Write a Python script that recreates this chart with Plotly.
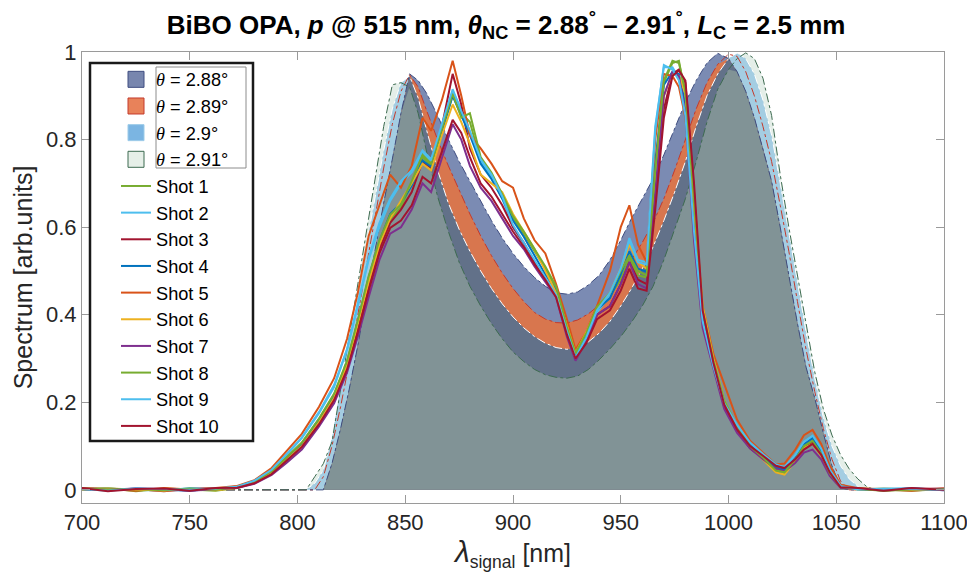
import numpy as np
import plotly.graph_objects as go

# ---------------- data ----------------
THETA_LABELS = ["2.88°", "2.89°", "2.9°", "2.91°"]

THETA_X = [700, 800, 804, 808, 812, 816, 820, 824, 828, 832, 836, 840, 844, 848, 852, 856,
           860, 865, 870, 875, 880, 885, 890, 895, 900, 905, 910, 915, 920, 925, 930, 935,
           940, 945, 950, 955, 960, 965, 970, 975, 980, 985, 990, 995, 1000,
           1004, 1008, 1012, 1016, 1020, 1024, 1028, 1032, 1036, 1040, 1044, 1048, 1052,
           1056, 1060, 1064, 1068, 1100]

SIM_288 = [0, 0, 0, 0, 0.0, 0.06, 0.14, 0.23, 0.33, 0.44, 0.55, 0.655, 0.755, 0.86, 0.95, 0.935,
           0.905, 0.855, 0.80, 0.75, 0.705, 0.66, 0.615, 0.575, 0.54, 0.51, 0.485, 0.465, 0.45, 0.447, 0.452, 0.468,
           0.49, 0.525, 0.57, 0.62, 0.665, 0.71, 0.765, 0.825, 0.885, 0.935, 0.975, 0.997, 0.985,
           0.955, 0.91, 0.85, 0.78, 0.705, 0.60, 0.49, 0.38, 0.28, 0.21, 0.13, 0.055, 0.005,
           0, 0, 0, 0, 0]

SIM_289 = [0, 0, 0, 0, 0.03, 0.10, 0.19, 0.29, 0.40, 0.515, 0.625, 0.735, 0.835, 0.91, 0.948, 0.92,
           0.865, 0.80, 0.74, 0.685, 0.63, 0.58, 0.535, 0.495, 0.46, 0.43, 0.405, 0.39, 0.382, 0.381, 0.388, 0.402,
           0.422, 0.45, 0.485, 0.525, 0.565, 0.61, 0.665, 0.73, 0.80, 0.87, 0.93, 0.972, 0.995,
           0.99, 0.955, 0.90, 0.83, 0.75, 0.65, 0.545, 0.43, 0.32, 0.225, 0.14, 0.07, 0.02,
           0.0, 0, 0, 0, 0]

SIM_290 = [0, 0, 0, 0.015, 0.045, 0.12, 0.24, 0.34, 0.445, 0.56, 0.67, 0.775, 0.87, 0.93, 0.945, 0.895,
           0.82, 0.73, 0.655, 0.595, 0.545, 0.50, 0.46, 0.425, 0.395, 0.37, 0.35, 0.335, 0.325, 0.321, 0.325, 0.338,
           0.358, 0.385, 0.42, 0.46, 0.505, 0.555, 0.615, 0.68, 0.75, 0.83, 0.90, 0.95, 0.985,
           0.998, 0.985, 0.95, 0.89, 0.81, 0.70, 0.59, 0.475, 0.36, 0.255, 0.165, 0.10, 0.055,
           0.025, 0.008, 0, 0, 0]

SIM_291 = [0, 0, 0.0, 0.03, 0.06, 0.11, 0.23, 0.34, 0.47, 0.59, 0.71, 0.83, 0.925, 0.93, 0.92, 0.86,
           0.77, 0.67, 0.59, 0.52, 0.465, 0.42, 0.38, 0.345, 0.315, 0.293, 0.275, 0.263, 0.257, 0.255, 0.26, 0.275,
           0.297, 0.322, 0.35, 0.383, 0.42, 0.465, 0.525, 0.595, 0.665, 0.75, 0.84, 0.915, 0.96,
           0.985, 0.998, 0.985, 0.94, 0.855, 0.72, 0.60, 0.49, 0.38, 0.27, 0.185, 0.125, 0.08,
           0.048, 0.025, 0.008, 0, 0]

SHOT_X = [700, 712, 725, 738, 750, 762, 772,
          780, 788, 795, 802, 810,
          817, 823, 828, 833, 838,
          843, 848, 853, 858, 862,
          867, 872, 876, 880, 885,
          890, 895, 900, 905, 910,
          915, 920, 925, 929, 934,
          939, 945, 950, 954, 958,
          962, 966, 970, 974, 977,
          980, 984, 988, 993, 998,
          1004, 1010, 1016, 1022, 1026,
          1031, 1035, 1039, 1043, 1047,
          1052, 1060, 1072, 1085, 1100]

SHOT_1 = [0.002, 0.004, -0.003, 0.003, 0.001, -0.002, 0.005,
          0.016, 0.038, 0.070, 0.102, 0.158,
          0.212, 0.285, 0.375, 0.470, 0.560,
          0.618, 0.645, 0.700, 0.760, 0.740,
          0.820, 0.900, 0.860, 0.840, 0.750,
          0.720, 0.670, 0.620, 0.585, 0.545,
          0.505, 0.460, 0.365, 0.305, 0.355,
          0.420, 0.445, 0.480, 0.530, 0.490,
          0.485, 0.720, 0.930, 0.975, 0.980,
          0.900, 0.630, 0.400, 0.290, 0.200,
          0.142, 0.098, 0.072, 0.046, 0.042,
          0.068, 0.098, 0.108, 0.080, 0.036,
          0.006, 0.003, 0.001, -0.002, 0.002]

SHOT_2 = [0.001, 0.003, 0.000, -0.002, 0.004, 0.002, 0.008,
          0.020, 0.045, 0.080, 0.118, 0.175,
          0.235, 0.320, 0.420, 0.525, 0.600,
          0.660, 0.700, 0.725, 0.770, 0.750,
          0.830, 0.910, 0.870, 0.815, 0.750,
          0.715, 0.665, 0.600, 0.560, 0.520,
          0.480, 0.440, 0.360, 0.300, 0.345,
          0.405, 0.445, 0.500, 0.575, 0.525,
          0.520, 0.830, 0.965, 0.965, 0.940,
          0.860, 0.585, 0.380, 0.280, 0.195,
          0.145, 0.105, 0.080, 0.055, 0.050,
          0.078, 0.108, 0.122, 0.092, 0.045,
          0.010, 0.000, 0.002, 0.004, -0.001]

SHOT_3 = [0.004, 0.001, 0.002, -0.003, 0.002, 0.003, 0.005,
          0.017, 0.040, 0.070, 0.100, 0.155,
          0.210, 0.285, 0.370, 0.465, 0.550,
          0.610, 0.640, 0.680, 0.750, 0.735,
          0.830, 0.950, 0.880, 0.780, 0.720,
          0.690, 0.650, 0.600, 0.565, 0.520,
          0.480, 0.445, 0.360, 0.305, 0.345,
          0.400, 0.420, 0.470, 0.520, 0.480,
          0.470, 0.660, 0.870, 0.950, 0.960,
          0.930, 0.680, 0.400, 0.285, 0.190,
          0.135, 0.095, 0.072, 0.050, 0.048,
          0.072, 0.098, 0.110, 0.082, 0.040,
          0.007, 0.003, -0.002, 0.002, 0.003]

SHOT_4 = [0.002, -0.001, 0.003, 0.001, -0.002, 0.003, 0.006,
          0.018, 0.041, 0.073, 0.106, 0.162,
          0.218, 0.292, 0.385, 0.485, 0.568,
          0.630, 0.655, 0.695, 0.752, 0.738,
          0.818, 0.900, 0.855, 0.810, 0.745,
          0.710, 0.665, 0.615, 0.578, 0.535,
          0.492, 0.455, 0.368, 0.308, 0.352,
          0.412, 0.438, 0.492, 0.545, 0.505,
          0.498, 0.750, 0.925, 0.955, 0.950,
          0.880, 0.610, 0.395, 0.290, 0.200,
          0.142, 0.102, 0.076, 0.050, 0.045,
          0.072, 0.104, 0.118, 0.088, 0.042,
          0.008, 0.002, -0.001, 0.003, 0.000]

SHOT_5 = [0.003, 0.002, -0.002, 0.004, 0.001, 0.004, 0.009,
          0.022, 0.050, 0.088, 0.128, 0.190,
          0.255, 0.345, 0.450, 0.580, 0.650,
          0.720, 0.690, 0.740, 0.850, 0.820,
          0.890, 0.980, 0.900, 0.810, 0.780,
          0.745, 0.705, 0.690, 0.620, 0.570,
          0.540, 0.470, 0.390, 0.320, 0.360,
          0.420, 0.500, 0.600, 0.650, 0.560,
          0.520, 0.800, 0.950, 0.945, 0.920,
          0.850, 0.640, 0.420, 0.310, 0.240,
          0.160, 0.112, 0.085, 0.058, 0.060,
          0.092, 0.125, 0.137, 0.105, 0.055,
          0.012, 0.004, 0.001, -0.002, 0.003]

SHOT_6 = [0.001, 0.003, 0.001, -0.002, 0.002, -0.001, 0.004,
          0.016, 0.038, 0.068, 0.100, 0.155,
          0.210, 0.285, 0.378, 0.475, 0.560,
          0.620, 0.660, 0.700, 0.745, 0.730,
          0.810, 0.880, 0.840, 0.790, 0.720,
          0.700, 0.680, 0.630, 0.590, 0.550,
          0.500, 0.450, 0.375, 0.312, 0.360,
          0.415, 0.450, 0.505, 0.560, 0.520,
          0.505, 0.700, 0.900, 0.950, 0.945,
          0.905, 0.650, 0.420, 0.300, 0.205,
          0.140, 0.098, 0.070, 0.040, 0.035,
          0.066, 0.096, 0.105, 0.078, 0.036,
          0.006, 0.001, 0.003, 0.000, 0.002]

SHOT_7 = [0.002, 0.000, 0.003, 0.002, -0.002, 0.001, 0.004,
          0.014, 0.034, 0.062, 0.092, 0.145,
          0.198, 0.268, 0.350, 0.440, 0.525,
          0.585, 0.600, 0.640, 0.700, 0.680,
          0.760, 0.835, 0.800, 0.740, 0.690,
          0.660, 0.620, 0.580, 0.550, 0.510,
          0.475, 0.440, 0.350, 0.295, 0.340,
          0.400, 0.420, 0.470, 0.520, 0.470,
          0.460, 0.680, 0.900, 0.955, 0.945,
          0.860, 0.570, 0.370, 0.275, 0.185,
          0.130, 0.095, 0.070, 0.048, 0.042,
          0.062, 0.085, 0.092, 0.070, 0.032,
          0.005, 0.002, 0.000, 0.003, -0.001]

SHOT_8 = [0.003, 0.001, 0.002, -0.001, 0.003, 0.000, 0.007,
          0.019, 0.042, 0.075, 0.108, 0.163,
          0.220, 0.295, 0.388, 0.488, 0.570,
          0.628, 0.652, 0.705, 0.765, 0.745,
          0.825, 0.905, 0.850, 0.860, 0.760,
          0.725, 0.675, 0.625, 0.590, 0.550,
          0.510, 0.465, 0.372, 0.312, 0.358,
          0.418, 0.450, 0.500, 0.535, 0.500,
          0.490, 0.730, 0.935, 0.980, 0.975,
          0.910, 0.650, 0.410, 0.295, 0.205,
          0.145, 0.100, 0.074, 0.044, 0.040,
          0.070, 0.100, 0.112, 0.083, 0.038,
          0.007, 0.002, -0.002, 0.001, 0.002]

SHOT_9 = [0.002, -0.002, 0.003, 0.002, 0.000, 0.003, 0.007,
          0.021, 0.046, 0.082, 0.120, 0.178,
          0.240, 0.322, 0.425, 0.530, 0.610,
          0.665, 0.705, 0.730, 0.775, 0.755,
          0.835, 0.915, 0.865, 0.820, 0.755,
          0.720, 0.670, 0.605, 0.565, 0.525,
          0.485, 0.445, 0.362, 0.302, 0.348,
          0.410, 0.450, 0.505, 0.570, 0.520,
          0.515, 0.820, 0.970, 0.960, 0.935,
          0.855, 0.590, 0.385, 0.282, 0.198,
          0.148, 0.108, 0.082, 0.058, 0.052,
          0.080, 0.110, 0.124, 0.094, 0.046,
          0.009, 0.001, 0.003, 0.002, 0.000]

SHOT_10 = [0.004, -0.003, 0.002, 0.003, -0.002, 0.004, 0.005,
           0.015, 0.036, 0.066, 0.098, 0.150,
           0.205, 0.275, 0.360, 0.455, 0.540,
           0.598, 0.615, 0.650, 0.715, 0.700,
           0.770, 0.845, 0.815, 0.760, 0.700,
           0.670, 0.630, 0.590, 0.555, 0.515,
           0.480, 0.440, 0.355, 0.300, 0.335,
           0.390, 0.410, 0.455, 0.505, 0.460,
           0.455, 0.640, 0.850, 0.945, 0.958,
           0.935, 0.700, 0.410, 0.290, 0.195,
           0.138, 0.100, 0.078, 0.055, 0.050,
           0.070, 0.092, 0.105, 0.080, 0.040,
           0.006, 0.004, -0.002, 0.004, 0.000]

SHOTS = [SHOT_1, SHOT_2, SHOT_3, SHOT_4, SHOT_5, SHOT_6, SHOT_7, SHOT_8, SHOT_9, SHOT_10]
SHOT_NAMES = ["Shot %d" % i for i in range(1, 11)]
SHOT_COLORS = ["#77AC30", "#4DBEEE", "#A2142F", "#0072BD", "#D95319",
               "#EDB120", "#7E2F8E", "#77AC30", "#4DBEEE", "#A2142F"]

# ---------------- styles ----------------
FONT = "Liberation Sans, Arial, Helvetica, sans-serif"
TXT = "#262626"
C_ONLY91 = "#e4eee8"
C_LB = "#a4cde2"
C_SLATE = "#7b8bb3"
C_ORANGE = "#d8764e"
C_DARK = "#627189"
C_GRAY = "#819396"
LEG_FILL = ["#7886ae", "#e8825a", "#7bb5e2", "#e6efe8"]
EDGE = ["#3f4d80", "#c43a2c", "#ffffff", "#3d6b50"]

y1, y2, y3, y4 = (np.array(a, dtype=float) for a in (SIM_288, SIM_289, SIM_290, SIM_291))

fig = go.Figure()

layers = [
    (y4, C_ONLY91),
    (y3, C_LB),
    (y1, C_SLATE),
    (np.minimum(y1, y2), C_ORANGE),
    (np.minimum.reduce([y1, y2, y3]), C_DARK),
    (np.minimum.reduce([y1, y2, y3, y4]), C_GRAY),
]
for vals, col in layers:
    fig.add_trace(go.Scatter(x=THETA_X, y=vals, mode="lines", fill="tozeroy",
                             fillcolor=col, line=dict(width=0, color=col),
                             showlegend=False, hoverinfo="skip"))

for vals, col in [(y3, EDGE[2]), (y2, EDGE[1]), (y1, EDGE[0]), (y4, EDGE[3])]:
    fig.add_trace(go.Scatter(x=THETA_X, y=vals, mode="lines",
                             line=dict(width=1, color=col, dash="dashdot"),
                             showlegend=False, hoverinfo="skip"))

THETA_SYM = '<span style="font-family:\'Liberation Serif\', \'DejaVu Serif\', serif"><i>θ</i></span>'

# legend patches for the simulated spectra
for i, lab in enumerate(THETA_LABELS):
    fig.add_trace(go.Scatter(x=[None], y=[None], mode="markers",
                             name=THETA_SYM + " = " + lab,
                             marker=dict(symbol="square", size=16, color=LEG_FILL[i],
                                         line=dict(color=EDGE[i] if i != 2 else "#9ccbe8", width=1)),
                             legendrank=i + 1))

for i, (ys, nm, col) in enumerate(zip(SHOTS, SHOT_NAMES, SHOT_COLORS)):
    fig.add_trace(go.Scatter(x=SHOT_X, y=ys, mode="lines", name=nm,
                             line=dict(color=col, width=2), legendrank=10 + i))

# page has an 8px body margin: figure pixel = screen pixel - 8
def px2x(p):
    return (p - 82) / 862.0

def px2y(p):
    return (503 - p) / 451.0

fig.update_layout(
    width=975, height=582,
    margin=dict(l=74, r=39, t=44, b=87),
    paper_bgcolor="white", plot_bgcolor="white",
    font=dict(family=FONT, color=TXT, size=20),
    title=dict(
        text="<b>BiBO OPA, <i>p</i> @ 515 nm, <i>θ</i><sub>NC</sub> = 2.88<sup>°</sup> – 2.91<sup>°</sup>, "
             "<i>L</i><sub>C</sub> = 2.5 mm</b>",
        x=0.492, xref="paper", xanchor="center", y=0.971, yanchor="middle",
        font=dict(size=26, color="black", family=FONT)),
    showlegend=True,
    legend=dict(x=px2x(116), y=px2y(61), xanchor="left", yanchor="top",
                bgcolor="rgba(0,0,0,0)", borderwidth=0,
                font=dict(size=18.2, color="black", family=FONT),
                itemwidth=30, tracegroupgap=0),
    shapes=[
        dict(type="rect", xref="paper", yref="paper",
             x0=px2x(90), x1=px2x(253), y0=px2y(441), y1=px2y(63),
             line=dict(color="#1a1a1a", width=2.5), fillcolor="rgba(0,0,0,0)", layer="above"),
        dict(type="rect", xref="paper", yref="paper",
             x0=px2x(156), x1=px2x(246), y0=px2y(168), y1=px2y(67),
             line=dict(color="#8c8c8c", width=1), fillcolor="rgba(0,0,0,0)", layer="above"),
    ],
)

fig.update_xaxes(range=[700, 1100], tick0=700, dtick=50, ticks="inside", ticklen=8,
                 tickcolor="#9a9a9a", showline=True, linecolor="#9a9a9a", linewidth=1,
                 mirror="ticks", showgrid=False, zeroline=False, automargin=False,
                 tickfont=dict(size=22, color=TXT, family=FONT),
                 title=dict(text='<span style="font-size:30px"><i>λ</i></span><sub>signal</sub> [nm]',
                            font=dict(size=25, color=TXT, family=FONT), standoff=6))
fig.update_yaxes(range=[-0.03, 1.0], tick0=0, dtick=0.2, ticks="inside", ticklen=8,
                 tickcolor="#9a9a9a", showline=True, linecolor="#9a9a9a", linewidth=1,
                 mirror="ticks", showgrid=False, zeroline=False, automargin=False,
                 tickfont=dict(size=22, color=TXT, family=FONT),
                 title=dict(text="Spectrum [arb.units]",
                            font=dict(size=25, color=TXT, family=FONT), standoff=6))

fig.write_html("out.html")
